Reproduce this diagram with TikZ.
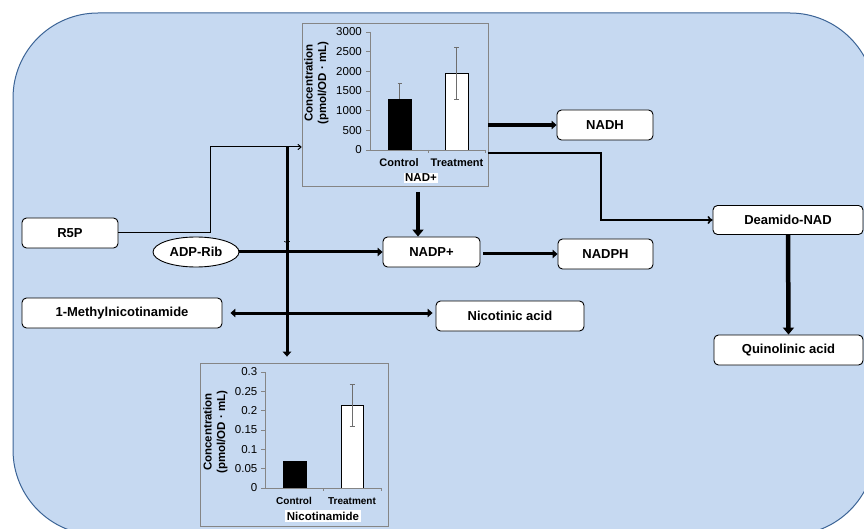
\documentclass[tikz,border=0pt]{standalone}
\usepackage{fontspec}
\setmainfont{Liberation Sans}
\usetikzlibrary{arrows.meta,shapes.geometric}
\definecolor{bgblue}{HTML}{C6D9F1}
\definecolor{bdblue}{HTML}{3C6496}
\definecolor{axgray}{HTML}{858585}
\definecolor{errgray}{HTML}{6E6E6E}
\begin{document}
\begin{tikzpicture}[x=1pt,y=-1pt,
  box/.style={draw=black, line width=0.9pt, rounded corners=4.5pt, fill=white,
    minimum height=30pt, inner sep=0pt, font=\fontsize{13}{15}\selectfont\bfseries},
  ell/.style={draw=black, line width=0.9pt, ellipse, fill=white, minimum width=86pt,
    minimum height=30pt, inner sep=0pt, font=\fontsize{13}{15}\selectfont\bfseries},
  chartbox/.style={draw=axgray, line width=0.8pt, inner sep=0pt},
  thk/.style={line width=3pt, -{Triangle[length=5pt,width=8.5pt]}},
  thkboth/.style={line width=3pt, {Triangle[length=5pt,width=8.5pt]}-{Triangle[length=5pt,width=8.5pt]}},
  thkbig/.style={line width=4.5pt, -{Triangle[length=7pt,width=11pt]}},
  thinarr/.style={line width=1pt, -{To[length=4pt,width=6pt]}},
  medarr/.style={line width=1.6pt, -{To[length=5pt,width=8pt]}},
  axis/.style={draw=axgray, line width=0.8pt},
  errbar/.style={draw=errgray, line width=0.8pt},
  ticklab/.style={anchor=east, inner sep=0pt, font=\fontsize{11.5}{13}\selectfont},
  catlab/.style={inner sep=0pt, font=\fontsize{11}{13}\selectfont\bfseries},
  ytitle/.style={rotate=90, align=center, inner sep=0pt, font=\fontsize{11.5}{13.5}\selectfont\bfseries},
  chartname/.style={fill=white, inner sep=1.5pt, font=\fontsize{11.5}{13}\selectfont\bfseries}
]
\useasboundingbox (0,0) rectangle (864,529);
% background
\draw[fill=bgblue, draw=bdblue, line width=1pt, rounded corners=85pt] (13,13) rectangle (875,535);

% ---------- NAD+ chart ----------
\node[chartbox, minimum width=186pt, minimum height=163pt] (nadbox) at (395,104.5) {};
\draw[errbar] (399.5,83.3) -- (399.5,115); \draw[errbar] (397.5,83.3) -- (401.5,83.3);
\draw[fill=black, draw=black, line width=0.6pt] (388,150) rectangle (411,98.9);
\draw[fill=white, draw=black, line width=0.6pt] (445,150) rectangle (468,73.3);
\draw[errbar] (456.5,47) -- (456.5,99.3);
\draw[errbar] (454,47) -- (459,47); \draw[errbar] (454,99.3) -- (459,99.3);
\draw[axis] (370,32) -- (370,150) -- (485,150);
\draw[axis] (428,150) -- (428,153); \draw[axis] (485,150) -- (485,153);
\foreach \t/\y in {0/150,500/130.3,1000/110.7,1500/91,2000/71.3,2500/51.7,3000/32}{
  \draw[axis] (366,\y) -- (370,\y);
  \node[ticklab] at (362,\y) {\t};
}
\node[ytitle] (nadytitle) at (316.5,83) {Concentration\\(pmol/OD · mL)};
\node[catlab] (nadctl) at (399,163) {Control};
\node[catlab] (nadtrt) at (457,163) {Treatment};
\node[chartname] (nadname) at (421,178) {NAD+};

% ---------- Nicotinamide chart ----------
\node[chartbox, minimum width=188pt, minimum height=163pt] (nicbox) at (294,444.5) {};
\draw[fill=black, draw=black, line width=0.6pt] (283,488) rectangle (306,461.7);
\draw[fill=white, draw=black, line width=0.6pt] (341,488) rectangle (363,405.6);
\draw[errbar] (352,384.7) -- (352,426.1);
\draw[errbar] (349.5,384.7) -- (354.5,384.7); \draw[errbar] (349.5,426.1) -- (354.5,426.1);
\draw[axis] (265,372) -- (265,488) -- (381,488);
\draw[axis] (323,488) -- (323,491); \draw[axis] (381,488) -- (381,491);
\foreach \t/\y in {0/488,0.05/468.7,0.1/449.3,0.15/430,0.2/410.7,0.25/391.3,0.3/372}{
  \draw[axis] (261,\y) -- (265,\y);
  \node[ticklab] at (257.5,\y) {\t};
}
\node[ytitle] (nicytitle) at (215.5,432) {Concentration\\(pmol/OD · mL)};
\node[catlab, font=\fontsize{10}{12}\selectfont\bfseries] (nicctl) at (294,501) {Control};
\node[catlab, font=\fontsize{10}{12}\selectfont\bfseries] (nictrt) at (352,501) {Treatment};
\node[chartname] (nicname) at (323,516) {Nicotinamide};

% ---------- nodes ----------
\node[box, minimum width=96pt] (r5p) at (70,233) {R5P};
\node[ell] (adp) at (196,252) {ADP-Rib};
\node[box, minimum width=200pt] (methyl) at (122,313) {1-Methylnicotinamide};
\node[box, minimum width=148pt] (nicotinic) at (510,316) {Nicotinic acid};
\node[box, minimum width=97pt] (nadp) at (431.5,252) {NADP+};
\node[box, minimum width=95pt] (nadph) at (605.5,254) {NADPH};
\node[box, minimum width=96pt] (nadh) at (605,125) {NADH};
\node[box, minimum width=150pt, minimum height=29pt] (deamido) at (788,220) {Deamido-NAD};
\node[box, minimum width=149pt] (quin) at (788.5,350) {Quinolinic acid};

% ---------- connectors ----------
\coordinate (r5pturn) at (210,147);
\draw[thinarr] (r5p.east) -| (r5pturn) -- (r5pturn -| nadbox.west);

\coordinate (vtop) at (287,147);
\draw[thk, shorten >=6pt] (vtop) -- (vtop |- nicbox.north);
\coordinate (midtip) at (287,244);
\draw[line width=0.6pt, -{To[length=3pt,width=6pt]}] (287,236) -- (midtip);

\draw[thk] (adp.east) -- (nadp.west);
\draw[thk, shorten <=3pt] (nadp.east |- nadph.west) -- (nadph.west);

\coordinate (nadout) at (418,192);
\draw[thkbig] (nadout) -- (nadout |- nadp.north);

\draw[thk, line width=3.5pt] (nadh.west -| nadbox.east) -- (nadh.west);

\coordinate (dturn) at (601,153);
\draw[medarr] (dturn -| nadbox.east) -- (dturn) |- (deamido.west);

\draw[thkbig] (deamido.south) -- (quin.north);

\draw[thkboth, shorten <=8pt, shorten >=3pt] (methyl.east) -- (methyl.east -| nicotinic.west);
\end{tikzpicture}
\end{document}
